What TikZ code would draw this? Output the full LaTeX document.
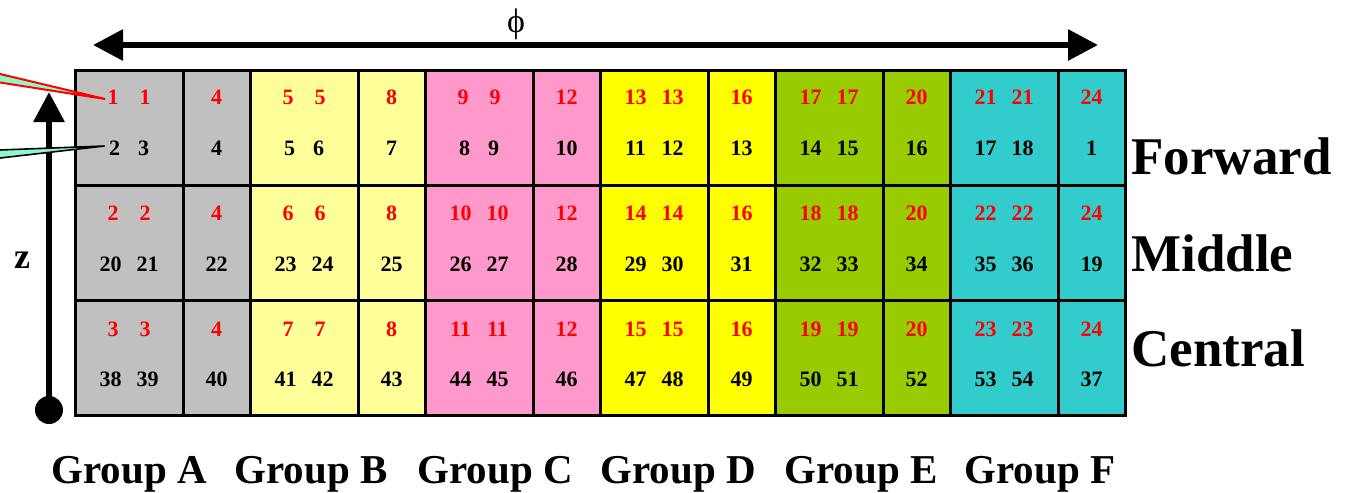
\documentclass[tikz,border=0pt]{standalone}
\usepackage{fontspec}
\setmainfont{Liberation Serif}
\usepackage{tikz}
\usetikzlibrary{arrows.meta}
\definecolor{cgrpA}{RGB}{192,192,192}
\definecolor{cgrpB}{RGB}{255,255,153}
\definecolor{cgrpC}{RGB}{255,153,204}
\definecolor{cgrpD}{RGB}{255,255,0}
\definecolor{cgrpE}{RGB}{153,204,0}
\definecolor{cgrpF}{RGB}{51,204,204}
\definecolor{cwedge}{RGB}{140,250,200}
\tikzset{
  cell/.style={draw=black, line width=1.5pt},
  rnum/.style={font=\fontsize{11}{12}\selectfont\bfseries, text=red, inner sep=0pt},
  bnum/.style={font=\fontsize{11}{12}\selectfont\bfseries, text=black, inner sep=0pt},
  rowlab/.style={font=\fontsize{26.5}{30}\selectfont\bfseries, anchor=base west, inner sep=0pt},
  grplab/.style={font=\fontsize{20.5}{24}\selectfont\bfseries, anchor=base, inner sep=0pt},
  bigarrow/.style={line width=3pt, -{Triangle[length=15pt, width=15pt]}}
}

\begin{document}
\begin{tikzpicture}[x=0.5pt, y=-0.5pt]
\useasboundingbox (0,0) rectangle (1346,493);
% Forward row
\foreach \g/\clr/\ra/\rb/\ba/\bb/\bc in {0/cgrpA/1/4/2/3/4, 1/cgrpB/5/8/5/6/7,
    2/cgrpC/9/12/8/9/10, 3/cgrpD/13/16/11/12/13, 4/cgrpE/17/20/14/15/16,
    5/cgrpF/21/24/17/18/1} {
  \pgfmathsetmacro\xl{75+175*\g}
  \pgfmathsetmacro\dr{\ra<10 ? 16 : 18.5}
  \pgfmathsetmacro\db{\ba<10 ? 14.5 : 18.5}
  \fill[\clr] (\xl,70) rectangle ++(175,115);
  \draw[cell] (\xl,70) rectangle ++(108,115);
  \draw[cell] (\xl+108,70) rectangle ++(67,115);
  \node[rnum] (f-\g-r1) at (\xl+54-\dr,97) {\ra};
  \node[rnum] (f-\g-r2) at (\xl+54+\dr,97) {\ra};
  \node[rnum] (f-\g-r3) at (\xl+141.5,97) {\rb};
  \node[bnum] (f-\g-b1) at (\xl+54-\db,148) {\ba};
  \node[bnum] (f-\g-b2) at (\xl+54+\db,148) {\bb};
  \node[bnum] (f-\g-b3) at (\xl+141.5,148) {\bc};
}
% Middle row
\foreach \g/\clr/\ra/\rb/\ba/\bb/\bc in {0/cgrpA/2/4/20/21/22, 1/cgrpB/6/8/23/24/25,
    2/cgrpC/10/12/26/27/28, 3/cgrpD/14/16/29/30/31, 4/cgrpE/18/20/32/33/34,
    5/cgrpF/22/24/35/36/19} {
  \pgfmathsetmacro\xl{75+175*\g}
  \pgfmathsetmacro\dr{\ra<10 ? 16 : 18.5}
  \fill[\clr] (\xl,185) rectangle ++(175,115);
  \draw[cell] (\xl,185) rectangle ++(108,115);
  \draw[cell] (\xl+108,185) rectangle ++(67,115);
  \node[rnum] (m-\g-r1) at (\xl+54-\dr,213) {\ra};
  \node[rnum] (m-\g-r2) at (\xl+54+\dr,213) {\ra};
  \node[rnum] (m-\g-r3) at (\xl+141.5,213) {\rb};
  \node[bnum] (m-\g-b1) at (\xl+35.5,264) {\ba};
  \node[bnum] (m-\g-b2) at (\xl+72.5,264) {\bb};
  \node[bnum] (m-\g-b3) at (\xl+141.5,264) {\bc};
}
% Central row
\foreach \g/\clr/\ra/\rb/\ba/\bb/\bc in {0/cgrpA/3/4/38/39/40, 1/cgrpB/7/8/41/42/43,
    2/cgrpC/11/12/44/45/46, 3/cgrpD/15/16/47/48/49, 4/cgrpE/19/20/50/51/52,
    5/cgrpF/23/24/53/54/37} {
  \pgfmathsetmacro\xl{75+175*\g}
  \pgfmathsetmacro\dr{\ra<10 ? 16 : 18.5}
  \fill[\clr] (\xl,300) rectangle ++(175,115);
  \draw[cell] (\xl,300) rectangle ++(108,115);
  \draw[cell] (\xl+108,300) rectangle ++(67,115);
  \node[rnum] (c-\g-r1) at (\xl+54-\dr,329) {\ra};
  \node[rnum] (c-\g-r2) at (\xl+54+\dr,329) {\ra};
  \node[rnum] (c-\g-r3) at (\xl+141.5,329) {\rb};
  \node[bnum] (c-\g-b1) at (\xl+35.5,379) {\ba};
  \node[bnum] (c-\g-b2) at (\xl+72.5,379) {\bb};
  \node[bnum] (c-\g-b3) at (\xl+141.5,379) {\bc};
}
% axes
\coordinate (phiL) at (93,45);
\coordinate (phiR) at (1098,45);
\draw[bigarrow, {Triangle[length=15pt, width=15pt]}-{Triangle[length=15pt, width=15pt]}] (phiL) -- (phiR);
\node[font=\fontsize{17}{20}\selectfont, anchor=base, inner sep=0pt] (phi) at (516,32) {ϕ};
\node[circle, fill=black, minimum size=14pt, inner sep=0pt] (zdot) at (49,410) {};
\coordinate (ztop) at (49,92);
\draw[bigarrow] (zdot.center) -- (ztop);
\node[font=\fontsize{18}{20}\selectfont\bfseries, anchor=base, inner sep=0pt] (zlab) at (22,268) {z};
% pointers
\coordinate (wa) at (0,74);
\coordinate (wb) at (0,82.5);
\coordinate (wc) at (0,150);
\coordinate (wd) at (0,158);
\coordinate (wtop) at ([xshift=-1pt, yshift=-1pt]f-0-r1.west);
\coordinate (wbot) at ([xshift=-2pt, yshift=1pt]f-0-b1.west);
\filldraw[fill=cwedge, draw=red, line width=1pt, line join=miter] (wa) -- (wtop) -- (wb);
\filldraw[fill=cwedge, draw=black, line width=0.8pt, line join=miter] (wc) -- (wbot) -- (wd);
% labels
\node[rowlab] (fwd) at (1131,174) {Forward};
\node[rowlab] (mid) at (1131,271) {Middle};
\node[rowlab] (cen) at (1131,366) {Central};
\node[grplab] (gA) at (129,483) {Group A};
\node[grplab] (gB) at (311,483) {Group B};
\node[grplab] (gC) at (495,483) {Group C};
\node[grplab] (gD) at (678,483) {Group D};
\node[grplab] (gE) at (861,483) {Group E};
\node[grplab] (gF) at (1040,483) {Group F};
\end{tikzpicture}
\end{document}
